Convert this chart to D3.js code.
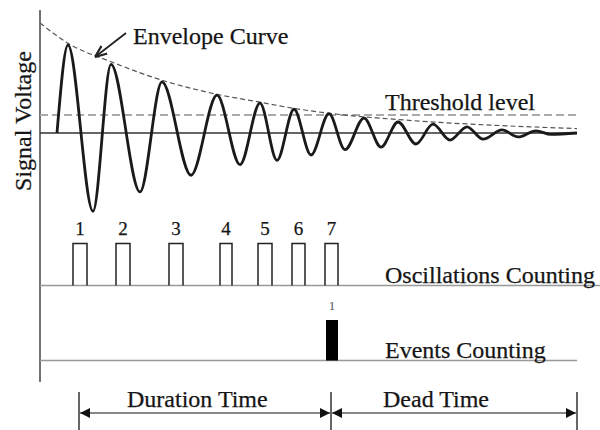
<!DOCTYPE html>
<html>
<head>
<meta charset="utf-8">
<script src="https://cdn.jsdelivr.net/npm/d3@7"></script>
<style>
  body { margin: 0; background: #fff; }
  text { font-family: "Liberation Serif", "Times New Roman", serif; fill: #151515; stroke: #151515; stroke-width: 0.25px; }
</style>
</head>
<body>
<div class="canvas"></div>
<script>
// signal (time units, voltage units) - peaks / troughs
var signalT = [17, 28, 53, 71, 100, 122, 151, 177, 200, 220, 237, 254, 271, 289, 305, 324, 341, 358, 376, 393, 410, 427, 443, 462, 478, 496, 511, 537];
var signalV = [0, 1.0, -0.89, 0.78, -0.67, 0.58, -0.48, 0.43, -0.36, 0.34, -0.31, 0.27, -0.25, 0.22, -0.19, 0.17, -0.16, 0.125, -0.125, 0.10, -0.08, 0.07, -0.07, 0.035, -0.045, 0.025, -0.015, 0];

// envelope curve
var envT = [0, 28, 71, 122, 177, 220, 254, 300, 350, 400, 450, 537];
var envV = [1.25, 1.02, 0.81, 0.60, 0.44, 0.35, 0.28, 0.21, 0.16, 0.12, 0.09, 0.05];

var threshold = 0.205;

// oscillation counts (threshold crossings)
var pulseLabels = ["1", "2", "3", "4", "5", "6", "7"];
var pulseStart = [33, 76, 129, 180, 218, 252, 285];
var pulseEnd = [47, 90, 143, 192, 232, 265, 298];

// event counting
var eventLabels = ["1"];
var eventStart = [286];
var eventEnd = [298];

// time spans
var spanNames = ["Duration Time", "Dead Time"];
var spanEdges = [39, 291, 537];

var width = 600, height = 430;

var svg = d3.select(".canvas")
  .append("svg")
  .attr("width", width)
  .attr("height", height);

var defs = svg.append("defs");
defs.append("marker")
  .attr("id", "arrow")
  .attr("viewBox", "0 0 10 10")
  .attr("refX", 10).attr("refY", 5)
  .attr("markerUnits", "userSpaceOnUse")
  .attr("markerWidth", 13).attr("markerHeight", 10)
  .attr("orient", "auto-start-reverse")
  .append("path")
  .attr("d", "M0,0L10,5L0,10Z")
  .attr("fill", "#111");

defs.append("marker")
  .attr("id", "arrowThin")
  .attr("viewBox", "0 0 10 10")
  .attr("refX", 10).attr("refY", 5)
  .attr("markerUnits", "userSpaceOnUse")
  .attr("markerWidth", 12).attr("markerHeight", 12)
  .attr("orient", "auto")
  .append("path")
  .attr("d", "M0,1L10,5L0,9")
  .attr("fill", "none")
  .attr("stroke", "#222")
  .attr("stroke-width", 1.8);

var x = d3.scaleLinear().domain([0, 540]).range([40, 580]);
var ySig = d3.scaleLinear().domain([-1, 1.25]).range([221, 23]);
var yPulse = d3.scaleLinear().domain([0, 1]).range([285.5, 243.5]);
var yEvent = d3.scaleLinear().domain([0, 1]).range([360.5, 320]);

// vertical axis
svg.append("line")
  .attr("x1", x(0)).attr("x2", x(0))
  .attr("y1", 10).attr("y2", 382)
  .attr("stroke", "#444").attr("stroke-width", 1.5);

svg.append("text")
  .attr("transform", "translate(31," + 121 + ") rotate(-90)")
  .attr("text-anchor", "middle")
  .style("font-size", "24px")
  .text("Signal Voltage");

// zero line
svg.append("line")
  .attr("x1", x(0)).attr("x2", x(537))
  .attr("y1", ySig(0)).attr("y2", ySig(0))
  .attr("stroke", "#333").attr("stroke-width", 1.5);

// threshold
svg.append("line")
  .attr("x1", x(0)).attr("x2", x(537))
  .attr("y1", ySig(threshold)).attr("y2", ySig(threshold))
  .attr("stroke", "#aaa").attr("stroke-width", 2)
  .attr("stroke-dasharray", "8,4");

svg.append("text")
  .attr("x", 385).attr("y", 110)
  .style("font-size", "24px")
  .text("Threshold level");

// envelope
var envLine = d3.line()
  .x(function(d, i){ return x(envT[i]); })
  .y(function(d){ return ySig(d); })
  .curve(d3.curveMonotoneX);

svg.append("path")
  .attr("d", envLine(envV))
  .attr("fill", "none")
  .attr("stroke", "#555")
  .attr("stroke-width", 1.2)
  .attr("stroke-dasharray", "5,3");

svg.append("line")
  .attr("x1", 126).attr("y1", 33)
  .attr("x2", 95).attr("y2", 57)
  .attr("stroke", "#222").attr("stroke-width", 1.8)
  .attr("marker-end", "url(#arrowThin)");

svg.append("text")
  .attr("x", 133).attr("y", 44)
  .style("font-size", "24px")
  .text("Envelope Curve");

// signal
var sigLine = d3.line()
  .x(function(d, i){ return x(signalT[i]); })
  .y(function(d){ return ySig(d); })
  .curve(d3.curveMonotoneX);

svg.append("path")
  .attr("d", sigLine(signalV))
  .attr("fill", "none")
  .attr("stroke", "#1a1a1a")
  .attr("stroke-width", 2.8)
  .attr("stroke-linejoin", "round");

// oscillations counting
svg.append("line")
  .attr("x1", x(0)).attr("x2", 600)
  .attr("y1", yPulse(0)).attr("y2", yPulse(0))
  .attr("stroke", "#999").attr("stroke-width", 1.5);

svg.selectAll(".pulse")
  .data(pulseLabels)
  .enter().append("path")
  .attr("class", "pulse")
  .attr("d", function(d, i){
    return "M" + x(pulseStart[i]) + "," + yPulse(0) +
      "V" + yPulse(1) + "H" + x(pulseEnd[i]) + "V" + yPulse(0);
  })
  .attr("fill", "none")
  .attr("stroke", "#222")
  .attr("stroke-width", 1.5);

svg.selectAll(".plabel")
  .data(pulseLabels)
  .enter().append("text")
  .attr("class", "plabel")
  .attr("x", function(d, i){ return x((pulseStart[i] + pulseEnd[i]) / 2); })
  .attr("y", 235)
  .attr("text-anchor", "middle")
  .style("font-size", "19px")
  .text(function(d){ return d; });

svg.append("text")
  .attr("x", 385).attr("y", 283)
  .style("font-size", "24px")
  .text("Oscillations Counting");

// events counting
svg.append("line")
  .attr("x1", x(0)).attr("x2", x(537))
  .attr("y1", yEvent(0)).attr("y2", yEvent(0))
  .attr("stroke", "#999").attr("stroke-width", 1.5);

svg.selectAll(".event")
  .data(eventLabels)
  .enter().append("rect")
  .attr("class", "event")
  .attr("x", function(d, i){ return x(eventStart[i]); })
  .attr("width", function(d, i){ return x(eventEnd[i]) - x(eventStart[i]); })
  .attr("y", yEvent(1))
  .attr("height", yEvent(0) - yEvent(1))
  .attr("fill", "#000");

svg.selectAll(".elabel")
  .data(eventLabels)
  .enter().append("text")
  .attr("class", "elabel")
  .attr("x", function(d, i){ return x((eventStart[i] + eventEnd[i]) / 2); })
  .attr("y", 310)
  .attr("text-anchor", "middle")
  .style("font-size", "13px")
  .style("fill", "#555")
  .style("stroke", "none")
  .text(function(d){ return d; });

svg.append("text")
  .attr("x", 385).attr("y", 358)
  .style("font-size", "24px")
  .text("Events Counting");

// duration / dead time
svg.selectAll(".edge")
  .data(spanEdges)
  .enter().append("line")
  .attr("class", "edge")
  .attr("x1", function(d){ return x(d); }).attr("x2", function(d){ return x(d); })
  .attr("y1", 392).attr("y2", 430)
  .attr("stroke", "#333").attr("stroke-width", 1.5);

svg.selectAll(".span")
  .data(spanNames)
  .enter().append("line")
  .attr("class", "span")
  .attr("x1", function(d, i){ return x(spanEdges[i]) + 1; })
  .attr("x2", function(d, i){ return x(spanEdges[i + 1]) - 1; })
  .attr("y1", 413).attr("y2", 413)
  .attr("stroke", "#888").attr("stroke-width", 2)
  .attr("marker-start", "url(#arrow)")
  .attr("marker-end", "url(#arrow)");

svg.selectAll(".slabel")
  .data(spanNames)
  .enter().append("text")
  .attr("class", "slabel")
  .attr("x", function(d, i){ return i == 0 ? 127 : 383; })
  .attr("y", 407)
  .style("font-size", "24px")
  .text(function(d){ return d; });
</script>
</body>
</html>
